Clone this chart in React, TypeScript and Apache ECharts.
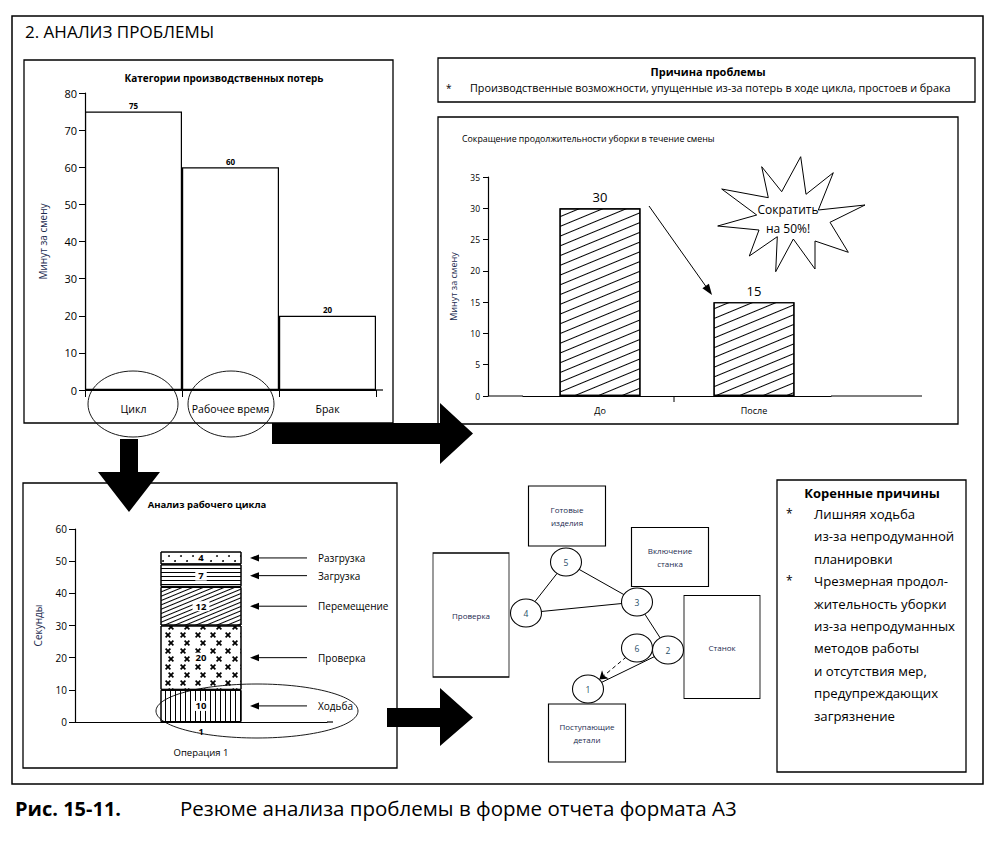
import React, { useEffect, useRef } from "react";
import * as echarts from "echarts";

const FONT = "'Open Sans', 'Noto Sans', 'DejaVu Sans', sans-serif";
const NAVY = "#1c2b4f";
const TEAL = "#1f4e68";

const pageTitle = "2. АНАЛИЗ ПРОБЛЕМЫ";

const lossTitle = "Категории производственных потерь";
const lossAxisName = "Минут за смену";
const lossCategories = ["Цикл", "Рабочее время", "Брак"];
const lossValues = [75, 60, 20];

const causeTitle = "Причина проблемы";
const causeText = "Производственные возможности, упущенные из-за потерь в ходе цикла, простоев и брака";

const cleanTitle = "Сокращение продолжительности уборки в течение смены";
const cleanAxisName = "Минут за смену";
const cleanCategories = ["До", "После"];
const cleanValues = [30, 15];
const burstLines = ["Сократить", "на 50%!"];

const cycleTitle = "Анализ рабочего цикла";
const cycleAxisName = "Секунды";
const cycleCategories = ["1"];
const cycleAxisTitle = "Операция 1";
const cycleSteps = ["Ходьба", "Проверка", "Перемещение", "Загрузка", "Разгрузка"];
const cycleValues = [10, 20, 12, 7, 4];

const stationNames = ["Готовые\nизделия", "Включение\nстанка", "Проверка", "Станок", "Поступающие\nдетали"];
const stationCenters = [[567, 516], [670, 557], [471, 615], [722, 647], [587, 733]];
const stationSizes = [[77, 60], [77, 59], [76, 124], [76, 103], [77, 58]];
const stepNames = ["1", "2", "3", "4", "5", "6"];
const stepCenters = [[588, 689], [668, 650], [637, 602], [526, 613], [566, 562], [637, 648]];
const stepLinks = [["5", "4"], ["5", "3"], ["4", "3"], ["3", "2"], ["2", "1"]];
const dashedLinks = [["6", "1"]];

const rootTitle = "Коренные причины";
const rootLines = [
  "Лишняя ходьба",
  "из-за непродуманной",
  "планировки",
  "Чрезмерная продол-",
  "жительность уборки",
  "из-за непродуманных",
  "методов работы",
  "и отсутствия мер,",
  "предупреждающих",
  "загрязнение",
];
const rootBullets = [0, 3];

const captionLabel = "Рис. 15-11.";
const captionText = "Резюме анализа проблемы в форме отчета формата А3";

const ELLIPSE_PATH = "path://M0,50 A50,50 0 1,1 100,50 A50,50 0 1,1 0,50 Z";
const X_PATH = "path://M0,2L2,0L5,3L8,0L10,2L7,5L10,8L8,10L5,7L2,10L0,8L3,5Z";

const ROT = -Math.PI / 8;
const cycleDecals: any[] = [
  { symbol: "rect", symbolSize: 1, color: "#000", dashArrayX: [1, 4], dashArrayY: [1, 0] },
  { symbol: X_PATH, symbolSize: 1, color: "#000", dashArrayX: [[6, 9], [0, 7.5, 6, 1.5]], dashArrayY: [6, 1.5] },
  { symbol: "rect", symbolSize: 1, color: "#000", dashArrayX: [1, 0], dashArrayY: [1, 3], rotation: ROT },
  { symbol: "rect", symbolSize: 1, color: "#000", dashArrayX: [1, 0], dashArrayY: [1, 2.5] },
  { symbol: "circle", symbolSize: 0.9, color: "#000", dashArrayX: [[2, 10], [0, 6, 2, 4]], dashArrayY: [2, 3] },
];
const cleanDecal = { symbol: "rect", symbolSize: 1, color: "#000", dashArrayX: [1, 0], dashArrayY: [1, 7.5], rotation: ROT };

function txt(x: number, y: number, text: string, o: any = {}) {
  const align = o.align || "left";
  return {
    type: "text",
    x,
    y,
    z: 20,
    silent: true,
    style: {
      text,
      fontFamily: FONT,
      fontSize: o.size || 10,
      fontWeight: o.weight || "normal",
      fill: o.fill || "#000",
      align,
      verticalAlign: "middle",
      textAlign: align,
      textVerticalAlign: "middle",
    },
  };
}
function box(x1: number, y1: number, x2: number, y2: number, lw = 1.3) {
  return { type: "rect", z: 1, silent: true, shape: { x: x1, y: y1, width: x2 - x1, height: y2 - y1 }, style: { fill: "none", stroke: "#000", lineWidth: lw } };
}
function seg(x1: number, y1: number, x2: number, y2: number, lw = 1.2) {
  return { type: "line", z: 5, silent: true, shape: { x1, y1, x2, y2 }, style: { stroke: "#000", lineWidth: lw } };
}
function poly(points: number[][], fill = "#000", z = 30) {
  return { type: "polygon", z, silent: true, shape: { points }, style: { fill } };
}
function oval(cx: number, cy: number, rx: number, ry: number) {
  return { type: "ellipse", z: 6, silent: true, shape: { cx, cy, rx, ry }, style: { fill: "none", stroke: "#000", lineWidth: 0.9 } };
}
function arrow(x1: number, y1: number, x2: number, y2: number, len = 9, half = 3.5, lw = 1) {
  const dx = x2 - x1;
  const dy = y2 - y1;
  const L = Math.hypot(dx, dy);
  const ux = dx / L;
  const uy = dy / L;
  const bx = x2 - ux * len;
  const by = y2 - uy * len;
  return [
    seg(x1, y1, bx + ux * 1, by + uy * 1, lw),
    poly([[x2, y2], [bx - uy * half, by + ux * half], [bx + uy * half, by - ux * half]], "#000", 8),
  ];
}

const burstPoints = [
  [761.7, 166.7], [781.7, 191.7], [800.7, 156.7], [806, 194.3], [833.3, 172.7], [818.3, 210],
  [865, 205], [830, 222.3], [848.3, 252.3], [815, 241], [815, 269], [793.3, 239], [775.7, 271.7],
  [777.3, 236.7], [749.3, 256], [759, 230], [717.7, 226], [756.7, 215], [721.7, 189], [768.3, 197.7],
];

function axisBase() {
  return {
    axisLine: { show: true, lineStyle: { color: "#000", width: 1.2 } },
    splitLine: { show: false },
  };
}

function buildOption(): any {
  const graphNodes: any[] = [];
  stationNames.forEach((n, i) => {
    graphNodes.push({
      name: n,
      value: stationCenters[i],
      symbol: "rect",
      symbolSize: stationSizes[i],
      label: { show: true, position: "inside", color: NAVY, fontSize: 8, lineHeight: 13, fontFamily: FONT },
    });
  });
  stepNames.forEach((n, i) => {
    graphNodes.push({
      name: n,
      value: stepCenters[i],
      symbol: ELLIPSE_PATH,
      symbolSize: [31, 28],
      label: { show: true, position: "inside", color: TEAL, fontSize: 8.5, fontFamily: FONT },
    });
  });
  const graphLinks: any[] = stepLinks.map(([s, t]) => ({ source: s, target: t }));
  dashedLinks.forEach(([s, t]) => {
    graphLinks.push({ source: s, target: t, symbol: ["none", "arrow"], symbolSize: [4, 8], lineStyle: { type: [4, 3] } });
  });

  return {
    animation: false,
    backgroundColor: "#fff",
    textStyle: { fontFamily: FONT, color: "#000" },
    grid: [
      { left: 85, top: 93, width: 291, height: 297 },
      { left: 523, top: 177, width: 308, height: 219 },
      { left: 75, top: 529, width: 252, height: 193 },
      { left: 0, top: 0, width: 998, height: 841 },
    ],
    xAxis: [
      {
        gridIndex: 0,
        type: "category",
        data: lossCategories,
        ...axisBase(),
        axisTick: { show: true, length: 7, lineStyle: { color: "#000" } },
        axisLabel: { color: "#000", fontSize: 10.5, margin: 13, interval: 0 },
      },
      {
        gridIndex: 1,
        type: "category",
        data: cleanCategories,
        ...axisBase(),
        axisTick: { show: false },
        axisLabel: { color: "#000", fontSize: 9, margin: 10, interval: 0 },
      },
      {
        gridIndex: 2,
        type: "category",
        data: cycleCategories,
        name: cycleAxisTitle,
        nameLocation: "middle",
        nameGap: 25,
        nameTextStyle: { color: "#000", fontSize: 9.5 },
        ...axisBase(),
        axisTick: { show: false },
        axisLabel: { color: "#000", fontSize: 9, fontWeight: "bold", margin: 5 },
      },
      { gridIndex: 3, type: "value", min: 0, max: 998, show: false },
    ],
    yAxis: [
      {
        gridIndex: 0,
        type: "value",
        min: 0,
        max: 80,
        interval: 10,
        name: lossAxisName,
        nameLocation: "middle",
        nameGap: 37,
        nameTextStyle: { color: NAVY, fontSize: 10 },
        ...axisBase(),
        axisTick: { show: true, length: 6, lineStyle: { color: "#000" } },
        axisLabel: { color: "#000", fontSize: 11, margin: 8 },
      },
      {
        gridIndex: 1,
        type: "value",
        min: 0,
        max: 35,
        interval: 5,
        offset: 35,
        name: cleanAxisName,
        nameLocation: "middle",
        nameGap: 30,
        nameTextStyle: { color: NAVY, fontSize: 9 },
        ...axisBase(),
        axisTick: { show: true, length: 5, lineStyle: { color: "#000" } },
        axisLabel: { color: "#000", fontSize: 8.5, margin: 8 },
      },
      {
        gridIndex: 2,
        type: "value",
        min: 0,
        max: 60,
        interval: 10,
        name: cycleAxisName,
        nameLocation: "middle",
        nameGap: 32,
        nameTextStyle: { color: NAVY, fontSize: 10 },
        ...axisBase(),
        axisTick: { show: true, length: 6, lineStyle: { color: "#000" } },
        axisLabel: { color: "#000", fontSize: 10, margin: 8 },
      },
      { gridIndex: 3, type: "value", min: 0, max: 841, inverse: true, show: false },
    ],
    series: [
      {
        type: "bar",
        xAxisIndex: 0,
        yAxisIndex: 0,
        data: lossValues,
        barCategoryGap: "0%",
        itemStyle: { color: "#fff", borderColor: "#000", borderWidth: 1.2 },
        label: { show: true, position: "top", fontSize: 8, fontWeight: "bold", color: "#000", distance: 2 },
      },
      {
        type: "bar",
        xAxisIndex: 1,
        yAxisIndex: 1,
        data: cleanValues,
        barWidth: 81,
        itemStyle: { color: "#fff", borderColor: "#000", borderWidth: 1.2, decal: cleanDecal },
        label: { show: true, position: "top", fontSize: 13, color: "#000", distance: 5 },
      },
      ...cycleSteps.map((name, i) => ({
        type: "bar",
        name,
        stack: "cycle",
        xAxisIndex: 2,
        yAxisIndex: 2,
        data: [cycleValues[i]],
        barWidth: 81,
        itemStyle: { color: "#fff", borderColor: "#000", borderWidth: 1, decal: cycleDecals[i] },
        label: {
          show: true,
          position: "inside",
          formatter: "{c}",
          fontSize: 9.5,
          fontWeight: "bold",
          color: "#000",
          backgroundColor: "#fff",
          padding: [0, 3],
        },
      })),
      {
        type: "graph",
        coordinateSystem: "cartesian2d",
        xAxisIndex: 3,
        yAxisIndex: 3,
        layout: "none",
        roam: false,
        z: 3,
        data: graphNodes,
        links: graphLinks,
        itemStyle: { color: "#fff", borderColor: "#000", borderWidth: 1 },
        lineStyle: { color: "#000", width: 1, opacity: 1, curveness: 0 },
        edgeSymbol: ["none", "none"],
        emphasis: { disabled: true },
      },
    ],
  };
}

function buildGraphics(chart: any): any[] {
  const g: any[] = [];
  g.push(box(12, 16, 983, 784, 1.5));
  g.push(txt(25, 31, pageTitle, { size: 17 }));

  // top-left panel
  g.push(box(24, 60, 393, 423));
  g.push(txt(224, 78, lossTitle, { size: 10, weight: "bold", align: "center" }));
  g.push(seg(376, 390, 383, 390));
  g.push(oval(133, 404, 45, 33));
  g.push(oval(231, 404, 43, 33));

  // cause box
  g.push(box(438, 58, 975, 102));
  g.push(txt(708, 71, causeTitle, { size: 11, weight: "bold", align: "center" }));
  g.push(txt(446, 88, "*", { size: 10 }));
  g.push(txt(470, 87, causeText, { size: 10.8 }));

  // right chart panel
  g.push(box(438, 117, 958, 424));
  g.push(txt(462, 139, cleanTitle, { size: 8.8 }));
  g.push(seg(488, 396, 523, 396));
  g.push(seg(831, 396, 922, 396));
  g.push(seg(674, 396, 674, 402, 1));
  g.push({ type: "polygon", z: 7, silent: true, shape: { points: burstPoints }, style: { fill: "#fff", stroke: "#000", lineWidth: 1 } });
  g.push(txt(788, 209, burstLines[0], { size: 12, align: "center" }));
  g.push(txt(788, 228, burstLines[1], { size: 12, align: "center" }));
  g.push(...arrow(649, 206, 712, 295, 11, 4));

  // bottom-left panel
  g.push(box(23, 483, 397, 768));
  g.push(txt(207, 504, cycleTitle, { size: 9.5, weight: "bold", align: "center" }));
  g.push(seg(327, 722, 333, 722));
  g.push(oval(257, 711, 101, 27));
  let cum = 0;
  cycleSteps.forEach((name, i) => {
    const mid = cum + cycleValues[i] / 2;
    cum += cycleValues[i];
    const p = chart.convertToPixel({ gridIndex: 2 }, [0, mid]);
    const y = p ? p[1] : 0;
    g.push(...arrow(307, y, 250, y, 9, 3.5, 1));
    g.push(txt(318, y, name, { size: 10 }));
  });

  // root causes
  g.push(box(777, 480, 966, 772));
  g.push(txt(872, 493, rootTitle, { size: 13, weight: "bold", align: "center" }));
  rootLines.forEach((line, i) => {
    const y = 514 + i * 22.4;
    if (rootBullets.indexOf(i) >= 0) g.push(txt(786, y - 1, "*", { size: 12 }));
    g.push(txt(814, y, line, { size: 13.2 }));
  });

  // caption
  g.push(txt(15, 808, captionLabel, { size: 20, weight: "bold" }));
  g.push(txt(180, 808, captionText, { size: 20.5 }));

  // big arrows
  g.push(poly([[120, 439], [138, 439], [138, 472], [160, 472], [129, 512], [98, 472], [120, 472]]));
  g.push(poly([[272, 423], [440, 423], [440, 403], [473, 433.5], [440, 464], [440, 444], [272, 444]]));
  g.push(poly([[387, 708], [440, 708], [440, 688], [473, 717.5], [440, 746], [440, 727], [387, 727]]));
  return g;
}

export default function App() {
  const ref = useRef<HTMLDivElement>(null);
  useEffect(() => {
    if (!ref.current) return;
    const chart = echarts.init(ref.current, null, { renderer: "svg" });
    chart.setOption(buildOption());
    chart.setOption({ graphic: { elements: buildGraphics(chart) } });
    return () => chart.dispose();
  }, []);
  return (
    <div
      ref={ref}
      style={{ position: "fixed", left: 0, top: 0, width: 998, height: 841, background: "#fff" }}
    />
  );
}
